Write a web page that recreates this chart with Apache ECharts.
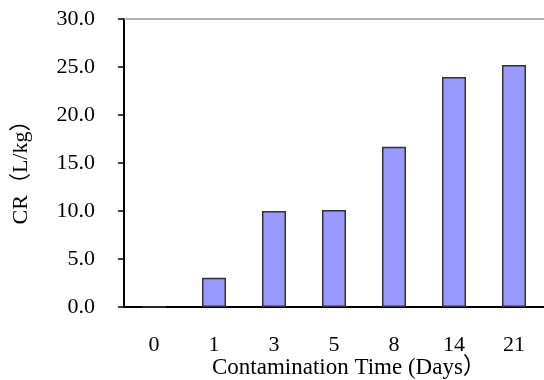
<!DOCTYPE html>
<html><head><meta charset="utf-8">
<script src="https://cdn.jsdelivr.net/npm/echarts@6/dist/echarts.min.js"></script>
<style>html,body{margin:0;padding:0;background:#fff}#c{width:544px;height:380px}</style>
</head><body><div id="c"></div>
<script>
const categories = ['0','1','3','5','8','14','21'];
const crValues = [0, 3.05, 10.0, 10.1, 16.7, 23.95, 25.2];
const yTicks = [0, 5, 10, 15, 20, 25, 30];

const FONT = '"Liberation Serif", "Times New Roman", "Noto Sans CJK SC", serif';
const chart = echarts.init(document.getElementById('c'), null, {renderer:'canvas'});
chart.setOption({
  animation: false,
  backgroundColor: '#fff',
  grid: {left: 124, top: 19, width: 424, height: 288},
  xAxis: [{
    type: 'category', data: categories, position: 'bottom',
    axisLine: {lineStyle: {color: '#000', width: 2}},
    axisTick: {inside: true, length: 7, lineStyle: {color: '#000', width: 1.5}},
    axisLabel: {color: '#000', fontFamily: FONT, fontSize: 22, margin: 27}
  }, {
    type: 'category', data: categories, position: 'top',
    axisLine: {show: true, lineStyle: {color: '#999', width: 1.5}},
    axisTick: {show: false}, axisLabel: {show: false}
  }],
  yAxis: {
    type: 'value', min: yTicks[0], max: yTicks[yTicks.length-1], interval: 5,
    axisLine: {show: true, lineStyle: {color: '#000', width: 2}},
    axisTick: {show: true, length: 6, lineStyle: {color: '#000', width: 1.5}},
    splitLine: {show: false},
    axisLabel: {color: '#000', fontFamily: FONT, fontSize: 22, margin: 29,
      formatter: v => v.toFixed(1)}
  },
  graphic: [{
    type: 'text', left: 212, top: 356,
    style: {text: 'Contamination Time (Days）', font: '23px ' + FONT, fill: '#000'}
  }, {
    type: 'text', x: 21, y: 167, rotation: Math.PI/2,
    style: {text: 'CR（L/kg）', font: '22px ' + FONT, fill: '#000', align: 'center', verticalAlign: 'middle'}
  }],
  series: [{
    type: 'bar', data: crValues, barWidth: 24,
    itemStyle: {color: '#9999FF', borderColor: '#333', borderWidth: 1.5}
  }]
});
</script></body></html>
